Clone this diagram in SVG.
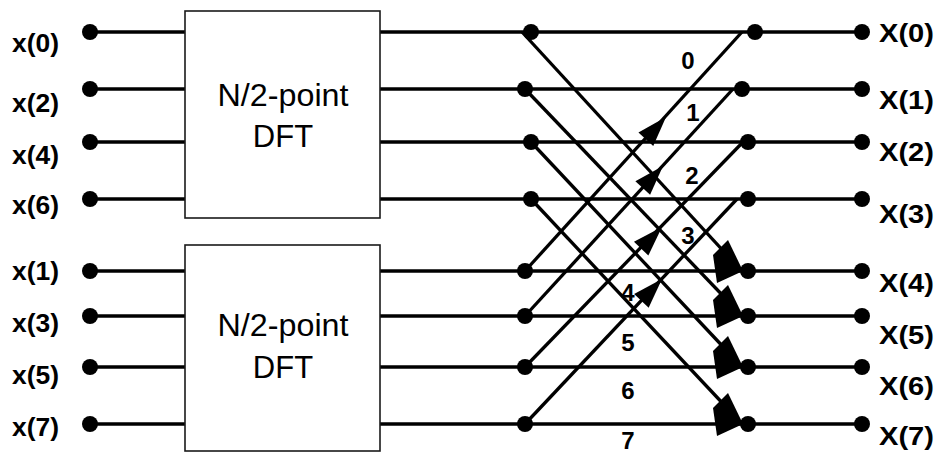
<svg xmlns="http://www.w3.org/2000/svg" width="943" height="455" viewBox="0 0 943 455">
<style>
.w{stroke:#000;stroke-width:3.3;fill:none;stroke-linecap:butt}
.box{fill:#fff;stroke:#1a1a1a;stroke-width:1.6}
.dot{fill:#000}
.lab{font-family:"Liberation Sans",Arial,sans-serif;font-weight:bold;font-size:25px;fill:#000}
.out{font-family:"Liberation Sans",Arial,sans-serif;font-weight:bold;font-size:26px;fill:#000}
.big{font-family:"Liberation Sans",Arial,sans-serif;font-size:31px;fill:#000;text-anchor:middle}
.num{font-family:"Liberation Sans",Arial,sans-serif;font-weight:bold;font-size:24px;fill:#000;text-anchor:middle}
.ah{fill:#000}
</style>
<defs>
<path id="up" d="M0,0 L-30,-10 L-30,10 Z"/>
<path id="dn" d="M1,0 L-14,-31 L-29,-16 L-25,12 Z"/>
</defs>
<rect width="943" height="455" fill="#fff"/>
<g id="connectors">
<line class="w" x1="90" y1="32" x2="185" y2="32"/>
<line class="w" x1="90" y1="89" x2="185" y2="89"/>
<line class="w" x1="90" y1="142" x2="185" y2="142"/>
<line class="w" x1="90" y1="199" x2="185" y2="199"/>
<line class="w" x1="90" y1="271" x2="185" y2="271"/>
<line class="w" x1="90" y1="316" x2="185" y2="316"/>
<line class="w" x1="90" y1="367" x2="185" y2="367"/>
<line class="w" x1="90" y1="424" x2="185" y2="424"/>
<line class="w" x1="380" y1="32" x2="862" y2="32"/>
<line class="w" x1="380" y1="89" x2="862" y2="89"/>
<line class="w" x1="380" y1="142" x2="862" y2="142"/>
<line class="w" x1="380" y1="199" x2="862" y2="199"/>
<line class="w" x1="380" y1="271" x2="862" y2="271"/>
<line class="w" x1="380" y1="316" x2="862" y2="316"/>
<line class="w" x1="380" y1="367" x2="862" y2="367"/>
<line class="w" x1="380" y1="424" x2="862" y2="424"/>
<line class="w" x1="522" y1="32" x2="728" y2="256"/>
<line class="w" x1="525" y1="89" x2="728" y2="301"/>
<line class="w" x1="531" y1="142" x2="728" y2="352"/>
<line class="w" x1="531" y1="199" x2="728" y2="409"/>
<line class="w" x1="525" y1="271" x2="742" y2="32"/>
<line class="w" x1="525" y1="316" x2="733" y2="89"/>
<line class="w" x1="525" y1="367" x2="743" y2="142"/>
<line class="w" x1="525" y1="424" x2="737" y2="199"/>
<use href="#up" class="ah" transform="translate(666,117) rotate(-47.8)"/>
<use href="#up" class="ah" transform="translate(663,166) rotate(-47.5)"/>
<use href="#up" class="ah" transform="translate(662,227) rotate(-46)"/>
<use href="#up" class="ah" transform="translate(662,279) rotate(-46.6)"/>
<use href="#dn" class="ah" transform="translate(742,271)"/>
<use href="#dn" class="ah" transform="translate(742,316)"/>
<use href="#dn" class="ah" transform="translate(742,367)"/>
<use href="#dn" class="ah" transform="translate(742,424)"/>
<text class="num" x="688" y="69">0</text>
<text class="num" x="693" y="121">1</text>
<text class="num" x="692" y="184">2</text>
<text class="num" x="688" y="244">3</text>
<text class="num" x="628" y="301">4</text>
<text class="num" x="628" y="351">5</text>
<text class="num" x="628" y="399">6</text>
<text class="num" x="628" y="449">7</text>
</g>
<g id="dft-top"><rect class="box" x="185" y="11" width="195" height="207"/><text class="big" x="283" y="106" textLength="131" lengthAdjust="spacingAndGlyphs">N/2-point</text><text class="big" x="283" y="147">DFT</text></g>
<g id="dft-bottom"><rect class="box" x="185" y="245" width="195" height="206"/><text class="big" x="283" y="336" textLength="131" lengthAdjust="spacingAndGlyphs">N/2-point</text><text class="big" x="283" y="378">DFT</text></g>
<g id="in0"><circle class="dot" cx="90" cy="32" r="8"/><text class="lab" x="12" y="52" textLength="47" lengthAdjust="spacingAndGlyphs">x(0)</text></g>
<g id="in2"><circle class="dot" cx="90" cy="89" r="8"/><text class="lab" x="12" y="112" textLength="47" lengthAdjust="spacingAndGlyphs">x(2)</text></g>
<g id="in4"><circle class="dot" cx="90" cy="142" r="8"/><text class="lab" x="12" y="164" textLength="47" lengthAdjust="spacingAndGlyphs">x(4)</text></g>
<g id="in6"><circle class="dot" cx="90" cy="199" r="8"/><text class="lab" x="12" y="214" textLength="47" lengthAdjust="spacingAndGlyphs">x(6)</text></g>
<g id="in1"><circle class="dot" cx="90" cy="271" r="8"/><text class="lab" x="12" y="280" textLength="47" lengthAdjust="spacingAndGlyphs">x(1)</text></g>
<g id="in3"><circle class="dot" cx="90" cy="316" r="8"/><text class="lab" x="12" y="332" textLength="47" lengthAdjust="spacingAndGlyphs">x(3)</text></g>
<g id="in5"><circle class="dot" cx="90" cy="367" r="8"/><text class="lab" x="12" y="384" textLength="47" lengthAdjust="spacingAndGlyphs">x(5)</text></g>
<g id="in7"><circle class="dot" cx="90" cy="424" r="8"/><text class="lab" x="12" y="436" textLength="47" lengthAdjust="spacingAndGlyphs">x(7)</text></g>
<g id="bl0"><circle class="dot" cx="531" cy="32" r="8"/></g>
<g id="bl1"><circle class="dot" cx="525" cy="89" r="8"/></g>
<g id="bl2"><circle class="dot" cx="531" cy="142" r="8"/></g>
<g id="bl3"><circle class="dot" cx="531" cy="199" r="8"/></g>
<g id="bl4"><circle class="dot" cx="525" cy="271" r="8"/></g>
<g id="bl5"><circle class="dot" cx="525" cy="316" r="8"/></g>
<g id="bl6"><circle class="dot" cx="525" cy="367" r="8"/></g>
<g id="bl7"><circle class="dot" cx="525" cy="424" r="8"/></g>
<g id="br0"><circle class="dot" cx="755" cy="32" r="8"/></g>
<g id="br1"><circle class="dot" cx="742" cy="89" r="8"/></g>
<g id="br2"><circle class="dot" cx="748" cy="142" r="8"/></g>
<g id="br3"><circle class="dot" cx="748" cy="199" r="8"/></g>
<g id="br4"><circle class="dot" cx="748" cy="271" r="8"/></g>
<g id="br5"><circle class="dot" cx="748" cy="316" r="8"/></g>
<g id="br6"><circle class="dot" cx="748" cy="367" r="8"/></g>
<g id="br7"><circle class="dot" cx="748" cy="424" r="8"/></g>
<g id="out0"><circle class="dot" cx="862" cy="32" r="8"/><text class="out" x="879" y="42" textLength="55" lengthAdjust="spacingAndGlyphs">X(0)</text></g>
<g id="out1"><circle class="dot" cx="862" cy="89" r="8"/><text class="out" x="879" y="109" textLength="55" lengthAdjust="spacingAndGlyphs">X(1)</text></g>
<g id="out2"><circle class="dot" cx="862" cy="142" r="8"/><text class="out" x="879" y="161" textLength="55" lengthAdjust="spacingAndGlyphs">X(2)</text></g>
<g id="out3"><circle class="dot" cx="862" cy="199" r="8"/><text class="out" x="879" y="223" textLength="55" lengthAdjust="spacingAndGlyphs">X(3)</text></g>
<g id="out4"><circle class="dot" cx="862" cy="271" r="8"/><text class="out" x="879" y="292" textLength="55" lengthAdjust="spacingAndGlyphs">X(4)</text></g>
<g id="out5"><circle class="dot" cx="862" cy="316" r="8"/><text class="out" x="879" y="344" textLength="55" lengthAdjust="spacingAndGlyphs">X(5)</text></g>
<g id="out6"><circle class="dot" cx="862" cy="367" r="8"/><text class="out" x="879" y="395" textLength="55" lengthAdjust="spacingAndGlyphs">X(6)</text></g>
<g id="out7"><circle class="dot" cx="862" cy="424" r="8"/><text class="out" x="879" y="445" textLength="55" lengthAdjust="spacingAndGlyphs">X(7)</text></g>
</svg>
